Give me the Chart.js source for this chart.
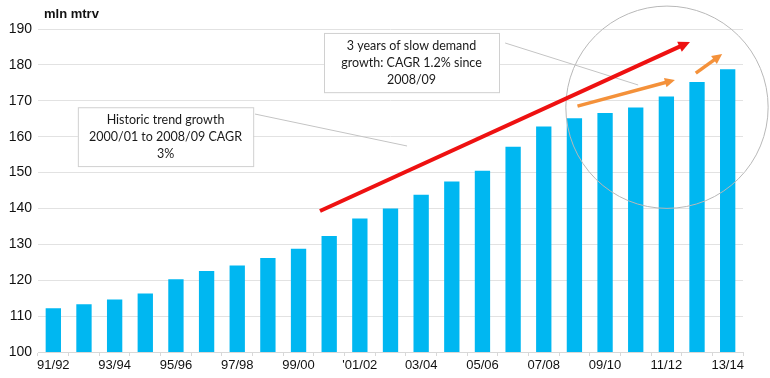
<!DOCTYPE html>
<html>
<head>
<meta charset="utf-8">
<script src="https://cdn.jsdelivr.net/npm/chart.js@4/dist/chart.umd.min.js"></script>
<style>
  html, body { margin: 0; padding: 0; background: #fff; }
  #wrap { width: 770px; height: 378px; position: relative; }
</style>
</head>
<body>
<div id="wrap"><canvas id="chart1"></canvas></div>
<script>
// season labels (x axis) and demand in mln mtrv
const seasons = ['91/92', '92/93', '93/94', '94/95', '95/96', '96/97', '97/98', '98/99', '99/00', '00/01',
    "'01/02", '02/03', '03/04', '04/05', '05/06', '06/07', '07/08', '08/09', '09/10', '10/11', '11/12', '12/13', '13/14'];
const demand = [112.2, 113.3, 114.6, 116.3, 120.3, 122.6, 124.1, 126.2, 128.8, 132.3,
    137.2, 140.0, 143.8, 147.5, 150.5, 157.2, 162.8, 165.1, 166.6, 168.1, 171.2, 175.2, 178.8];
const yTicks = [100, 110, 120, 130, 140, 150, 160, 170, 180, 190];
const unitLabel = 'mln mtrv';

// callouts, in (category index, value) units
const notes = [
    { lines: ['Historic trend growth', '2000/01 to 2008/09 CAGR', '3%'], box: [0.8, 168.2, 6.52, 151.8], leader: [6.58, 166.3, 11.54, 157.4] },
    { lines: ['3 years of slow demand', 'growth: CAGR 1.2% since', '2008/09'], box: [8.83, 188.9, 14.54, 172.4], leader: [14.74, 186.1, 19.08, 174.4] }
];
const arrows = [
    { from: [8.7, 139.3], to: [20.77, 186.4], color: '#ee1111', width: 4 },
    { from: [17.1, 168.5], to: [20.28, 175.8], color: '#f4913a', width: 3.5 },
    { from: [20.96, 177.7], to: [21.82, 183.0], color: '#f4913a', width: 3.5 }
];
const ring = { center: [20.02, 168.2], radius: 3.3 };

const extras = {
    id: 'extras',
    afterDraw(chart) {
        const c = chart.ctx;
        const xs = chart.scales.x, ys = chart.scales.y;
        const px = (i) => xs.getPixelForValue(i);
        const py = (v) => ys.getPixelForValue(v);
        const step = px(1) - px(0);

        c.save();
        // unit label
        c.fillStyle = '#111';
        c.font = 'bold 13px "Liberation Sans", Arial, sans-serif';
        c.textAlign = 'left';
        c.textBaseline = 'middle';
        c.fillText(unitLabel, chart.chartArea.left + 6, 14);

        // circle
        c.strokeStyle = '#b8b8b8';
        c.lineWidth = 1;
        c.beginPath();
        c.arc(px(ring.center[0]), py(ring.center[1]), ring.radius * step, 0, Math.PI * 2);
        c.stroke();

        // leader lines + boxes
        notes.forEach(n => {
            c.strokeStyle = '#c4c4c4';
            c.lineWidth = 1;
            c.beginPath();
            c.moveTo(px(n.leader[0]), py(n.leader[1]));
            c.lineTo(px(n.leader[2]), py(n.leader[3]));
            c.stroke();

            const x1 = px(n.box[0]), y1 = py(n.box[1]), x2 = px(n.box[2]), y2 = py(n.box[3]);
            c.fillStyle = '#fff';
            c.fillRect(x1, y1, x2 - x1, y2 - y1);
            c.strokeStyle = '#d0d0d0';
            c.strokeRect(x1 + 0.5, y1 + 0.5, x2 - x1, y2 - y1);
            c.fillStyle = '#1a1a1a';
            c.font = '12.5px Lato, "Open Sans", sans-serif';
            c.textAlign = 'center';
            c.textBaseline = 'middle';
            const mid = (y1 + y2) / 2;
            n.lines.forEach((t, k) => c.fillText(t, (x1 + x2) / 2, mid + (k - 1) * 17));
        });

        // arrows
        arrows.forEach(a => {
            const x1 = px(a.from[0]), y1 = py(a.from[1]), x2 = px(a.to[0]), y2 = py(a.to[1]);
            const ang = Math.atan2(y2 - y1, x2 - x1);
            const head = a.width * 3.2;
            c.strokeStyle = a.color;
            c.fillStyle = a.color;
            c.lineWidth = a.width;
            c.beginPath();
            c.moveTo(x1, y1);
            c.lineTo(x2 - Math.cos(ang) * head * 0.8, y2 - Math.sin(ang) * head * 0.8);
            c.stroke();
            c.beginPath();
            c.moveTo(x2, y2);
            c.lineTo(x2 - head * Math.cos(ang - 0.45), y2 - head * Math.sin(ang - 0.45));
            c.lineTo(x2 - head * Math.cos(ang + 0.45), y2 - head * Math.sin(ang + 0.45));
            c.closePath();
            c.fill();
        });
        c.restore();
    }
};

Chart.defaults.font.family = '"Liberation Sans", Arial, sans-serif';
Chart.defaults.color = '#111';

new Chart(document.querySelector('#chart1'), {
    type: 'bar',
    data: {
        labels: seasons,
        datasets: [{
            label: unitLabel,
            data: demand,
            backgroundColor: '#00b7f1',
            barPercentage: 0.5,
            categoryPercentage: 1.0
        }]
    },
    options: {
        responsive: true,
        maintainAspectRatio: false,
        animation: false,
        layout: { padding: { top: 29, right: 27, left: 0, bottom: 0 } },
        plugins: {
            legend: { display: false },
            tooltip: { enabled: false }
        },
        scales: {
            y: {
                min: 100,
                max: 190,
                afterFit(scale) { scale.width = 38; },
                afterBuildTicks(scale) { scale.ticks = yTicks.map(v => ({ value: v })); },
                ticks: { font: { size: 14 }, color: '#111', padding: 6 },
                grid: { color: '#e2e2e2', drawTicks: false },
                border: { display: false }
            },
            x: {
                afterFit(scale) { scale.height = 26; },
                ticks: {
                    autoSkip: false,
                    maxRotation: 0,
                    font: { size: 13 },
                    color: '#111',
                    padding: 2,
                    callback(v, i) { return i % 2 === 0 ? seasons[i] : ''; }
                },
                grid: { display: true, drawOnChartArea: false, offset: true, tickLength: 4, color: '#d8d8d8' },
                border: { color: '#d8d8d8' }
            }
        }
    },
    plugins: [extras]
});
</script>
</body>
</html>
